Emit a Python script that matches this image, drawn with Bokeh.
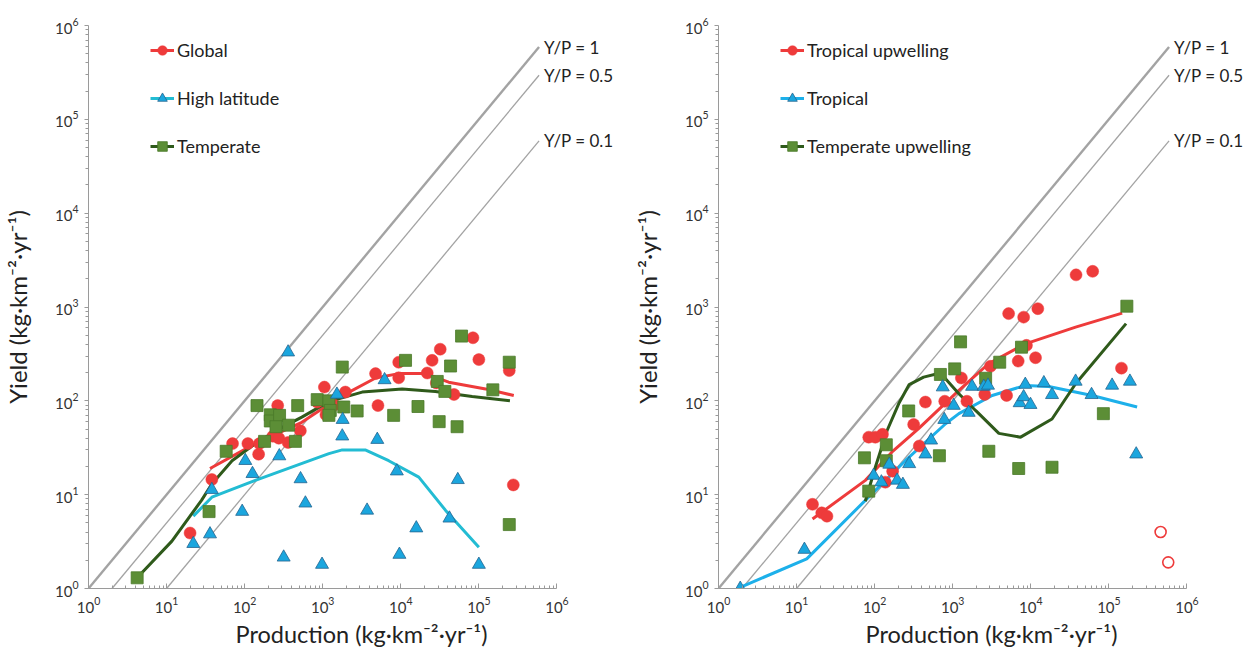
from bokeh.plotting import figure
from bokeh.models import Range1d, Label, Legend, LegendItem, FixedTicker, Title
from bokeh.layouts import row
from bokeh.embed import file_html
from bokeh.resources import INLINE

# ---------------- data: left panel ----------------
global_P = [20, 38, 70, 110, 151, 155, 265, 230, 274, 360, 517, 850, 1050, 1100, 1400,
            1950, 4750, 5100, 9400, 9400, 21800, 25200, 32000, 28500, 48000, 84000,
            100000, 245000, 276000]
global_Y = [3.9, 14.5, 35, 35, 27, 35, 89, 42, 40, 36, 48, 97, 140, 71, 90,
            124, 195, 89, 258, 176, 198, 270, 355, 155, 117, 470,
            275, 210, 12.7]
global_line_P = [36, 137, 540, 1200, 1950, 4750, 9400, 20700, 41000, 122000, 280000]
global_line_Y = [19, 35, 59, 92, 118, 175, 195, 195, 158, 134, 114]

high_P = [360, 22, 36, 38, 93, 102, 126, 278, 316, 520, 600, 980, 1520, 1800, 1780,
          5000, 3700, 6200, 8900, 9600, 15800, 42000, 53700, 100000]
high_Y = [330, 3.0, 3.8, 11.3, 6.6, 23, 16.7, 25.8, 2.15, 14.7, 8.1, 1.8, 117, 63, 42,
          38.6, 6.8, 167, 17.8, 2.3, 4.4, 5.6, 14.4, 1.8]
high_line_P = [22, 38, 137, 1200, 1780, 3500, 7000, 17000, 37500, 100000]
high_line_Y = [5.9, 9.4, 14.2, 27.4, 30, 30, 23, 15.4, 6.8, 2.75]

temp_P = [4.2, 35, 58, 144, 180, 213, 213, 280, 252, 365, 447, 478, 850, 1200, 1250,
          1200, 1860, 1780, 2760, 8100, 11500, 16600, 29300, 31000, 36700, 43400,
          52600, 60000, 151000, 245000, 245000]
temp_Y = [1.3, 6.6, 29, 89, 37, 71, 61, 70, 53, 55, 37, 89, 103, 100, 79,
          70, 86, 229, 78, 70, 270, 87, 161, 60, 126, 235,
          53, 490, 131, 258, 4.8]
temp_line_P = [4.2, 11.7, 28, 38, 69, 137, 275, 540, 1200, 3200, 10400, 27700, 82000, 250000]
temp_line_Y = [1.3, 3.2, 8.7, 13, 23, 35, 50, 67, 98, 124, 134, 126, 111, 100]

# ---------------- data: right panel ----------------
tu_P = [16, 21, 24.5, 84, 102, 126, 137, 170, 316, 373, 447, 790, 1290, 1520, 2570,
        3040, 4900, 5200, 8100, 8800, 6900, 11500, 12300, 38000, 62000, 145000]
tu_Y = [7.9, 6.4, 5.9, 41, 41, 44, 13.6, 17.8, 56, 33, 97, 99, 175, 99, 117,
        233, 114, 850, 780, 390, 265, 288, 960, 2200, 2400, 223]
tu_open_P = [460000, 576000]
tu_open_Y = [4.0, 1.9]
tu_line_P = [16, 76, 167, 365, 1200, 2900, 8500, 37500, 148000]
tu_line_Y = [5.5, 14.2, 28.5, 50.5, 129, 250, 405, 610, 860]

trop_P = [1.9, 12.6, 97, 122, 154, 194, 230, 277, 447, 528, 780, 745, 1030, 1600, 1770,
          2500, 2830, 7200, 8100, 8500, 9900, 14700, 18700, 37500, 60000, 110000,
          186000, 224000]
trop_Y = [1.0, 2.6, 16, 13.6, 21, 14.2, 12.8, 21.3, 27, 38, 63, 140, 89, 75, 142,
          142, 146, 95, 110, 149, 91, 155, 116, 161, 116, 146,
          161, 27]
trop_line_P = [1.9, 13.5, 76, 247, 810, 1200, 3200, 8500, 17000, 61000, 230000]
trop_line_Y = [1.03, 2.07, 8.7, 23, 57, 73, 114, 146, 142, 114, 86]

tup_P = [84, 74, 141, 141, 273, 675, 695, 1060, 1260, 2640, 4000, 7600, 2900, 7000,
         18700, 85000, 170000]
tup_Y = [10.9, 24.7, 34, 23, 78, 26, 191, 219, 425, 174, 258, 373, 29, 19,
         19.6, 73, 1020]
tup_line_P = [76, 102, 144, 203, 277, 424, 695, 1200, 1960, 3900, 7400, 18700, 37500, 166000]
tup_line_Y = [8.5, 19.6, 48, 93, 149, 179, 198, 119, 79, 45, 41, 64, 152, 665]

# Y/P reference lines
ratios = [1, 0.5, 0.1]
ratio_labels = ["Y/P = 1", "Y/P = 0.5", "Y/P = 0.1"]
ratio_end_P = 5.9e5

major_ticks = [1, 10, 100, 1000, 10000, 100000, 1000000]
minor_ticks = [m * 10 ** k for k in range(6) for m in range(2, 10)]

X_LABEL = "Production (kg·km⁻²·yr⁻¹)"
Y_LABEL = "Yield (kg·km⁻²·yr⁻¹)"

FONT = "Lato"
RED = "#EE3B3B"
BLUE_FILL = "#1BA6DE"
BLUE_EDGE = "#24648F"
GREEN_FILL = "#5C8E36"
GREEN_EDGE = "#4A7A2A"
GREEN_LINE = "#2F5A1B"
GRAY = "#A3A3A3"

X_END = 10 ** 6.75   # frame extends right of the 10^6 axis end to hold the Y/P labels


def make_panel(series, open_pts, line_blue, min_left, min_right):
    p = figure(x_axis_type="log", y_axis_type="log",
               x_range=Range1d(1, X_END), y_range=Range1d(1, 1e6),
               frame_width=527, frame_height=563,
               min_border_left=min_left, min_border_right=min_right,
               min_border_top=25, min_border_bottom=64,
               output_backend="svg", toolbar_location=None)
    p.grid.visible = False
    p.outline_line_color = None
    p.background_fill_color = "white"
    p.border_fill_color = "white"

    for ax in (p.xaxis[0], p.yaxis[0]):
        ax.ticker = FixedTicker(ticks=major_ticks, minor_ticks=minor_ticks)
        ax.axis_line_color = "#9A9A9A"
        ax.major_tick_line_color = "#9A9A9A"
        ax.minor_tick_line_color = "#9A9A9A"
        ax.major_label_text_font = FONT
        ax.major_label_text_font_size = "15px"
        ax.major_label_text_color = "#333333"
        ax.axis_label_text_font = FONT
        ax.axis_label_text_font_size = "24px"
        ax.axis_label_text_font_style = "normal"
        ax.axis_label_text_color = "#222222"
    p.xaxis.bounds = (1, 1e6)
    p.xaxis.major_tick_in = 5
    p.xaxis.major_tick_out = 0
    p.xaxis.minor_tick_in = 3
    p.xaxis.minor_tick_out = 0
    p.yaxis.major_tick_in = 0
    p.yaxis.major_tick_out = 4
    p.yaxis.minor_tick_in = 0
    p.yaxis.minor_tick_out = 3
    p.yaxis.axis_label = Y_LABEL
    p.xaxis.major_label_standoff = 8
    p.yaxis.major_label_standoff = 6
    p.yaxis.axis_label_standoff = 20

    # x-axis label as a title below, placed as in the original
    p.add_layout(Title(text=X_LABEL, align="left", offset=147, standoff=4,
                       text_font=FONT, text_font_size="23.5px",
                       text_font_style="normal", text_color="#222222"), "below")

    # Y/P lines
    for r, lab in zip(ratios, ratio_labels):
        x0 = 1.0 / r
        p.line([x0, ratio_end_P], [1.0, r * ratio_end_P], line_color=GRAY,
               line_width=2.4 if r == 1 else 1.3)
        p.add_layout(Label(x=ratio_end_P, y=r * ratio_end_P, x_offset=5,
                           text=lab, text_baseline="middle",
                           text_font=FONT, text_font_size="17px",
                           text_color="#222222"))

    (rP, rY, rlP, rlY, rname), (gP, gY, glP, glY, gname), (bP, bY, blP, blY, bname) = series
    lr_red = p.line(rlP, rlY, line_color=RED, line_width=3)
    lr_blue = p.line(blP, blY, line_color=line_blue, line_width=3)
    lr_green = p.line(glP, glY, line_color=GREEN_LINE, line_width=3)

    s_red = p.scatter(rP, rY, marker="circle", size=12, fill_color=RED,
                      line_color=RED, line_width=0.5)
    s_green = p.scatter(gP, gY, marker="square", size=12, fill_color=GREEN_FILL,
                        line_color=GREEN_EDGE, line_width=0.8)
    s_blue = p.scatter(bP, bY, marker="triangle", size=13, fill_color=BLUE_FILL,
                       line_color=BLUE_EDGE, line_width=0.8)
    if open_pts is not None:
        p.scatter(open_pts[0], open_pts[1], marker="circle", size=11,
                  fill_color=None, line_color=RED, line_width=1.6)

    legend = Legend(items=[
        LegendItem(label=rname, renderers=[lr_red, s_red]),
        LegendItem(label=bname, renderers=[lr_blue, s_blue]),
        LegendItem(label=gname, renderers=[lr_green, s_green]),
    ], location=(62, 430))
    legend.glyph_width = 24
    legend.glyph_height = 24
    legend.label_height = 24
    legend.spacing = 24
    legend.padding = 0
    legend.margin = 0
    legend.label_standoff = 3
    legend.border_line_color = None
    legend.background_fill_alpha = 0
    legend.label_text_font = FONT
    legend.label_text_font_size = "18px"
    legend.label_text_color = "#222222"
    p.add_layout(legend, "center")
    return p


p1 = make_panel([
    (global_P, global_Y, global_line_P, global_line_Y, "Global"),
    (temp_P, temp_Y, temp_line_P, temp_line_Y, "Temperate"),
    (high_P, high_Y, high_line_P, high_line_Y, "High latitude"),
], None, "#23BCD3", 82, 13)

p2 = make_panel([
    (tu_P, tu_Y, tu_line_P, tu_line_Y, "Tropical upwelling"),
    (tup_P, tup_Y, tup_line_P, tup_line_Y, "Temperate upwelling"),
    (trop_P, trop_Y, trop_line_P, trop_line_Y, "Tropical"),
], (tu_open_P, tu_open_Y), "#1DB0EA", 90, 0)

layout = row(p1, p2)
open("out.html", "w").write(file_html(layout, INLINE))
